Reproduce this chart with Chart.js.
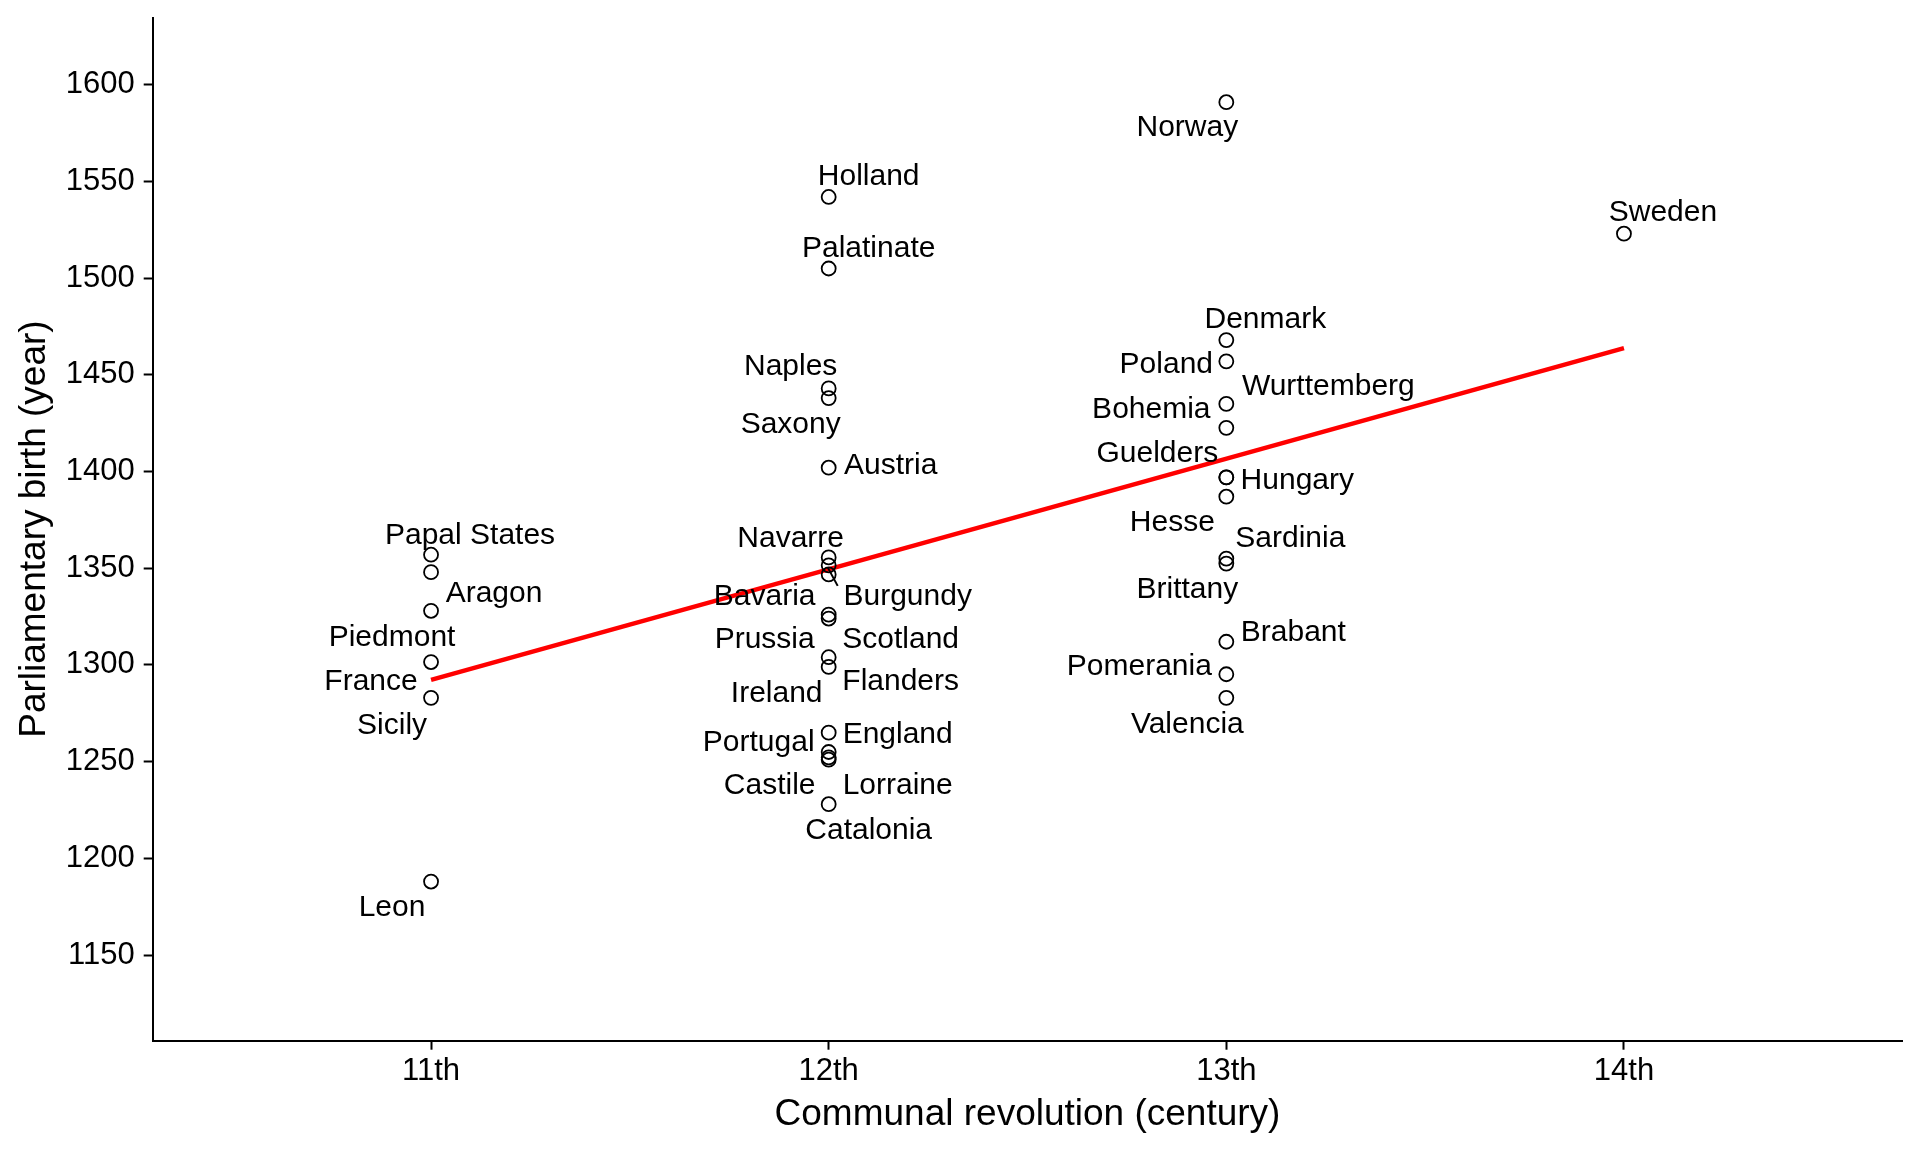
<!DOCTYPE html>
<html>
<head>
<meta charset="utf-8">
<script src="https://cdn.jsdelivr.net/npm/chart.js@4.4.1/dist/chart.umd.min.js"></script>
<style>
    body { margin: 0; background: #fff; }
    canvas { display: block; }
</style>
</head>
<body>
<canvas id="birthChart" width="1920" height="1152"></canvas>
<script>
// data
const countries = [
    'Papal States', 'Aragon', 'Piedmont', 'France', 'Sicily', 'Leon',
    'Holland', 'Palatinate', 'Naples', 'Saxony', 'Austria', 'Navarre', 'Burgundy', 'Bavaria',
    'Prussia', 'Scotland', 'Flanders', 'Ireland', 'England', 'Portugal', 'Lorraine', 'Castile', 'Catalonia',
    'Norway', 'Denmark', 'Poland', 'Bohemia', 'Wurttemberg', 'Guelders', 'Hungary', 'Hesse',
    'Sardinia', 'Brittany', 'Brabant', 'Pomerania', 'Valencia',
    'Sweden'
];
const century = [
    11, 11, 11, 11, 11, 11,
    12, 12, 12, 12, 12, 12, 12, 12,
    12, 12, 12, 12, 12, 12, 12, 12, 12,
    13, 13, 13, 13, 13, 13, 13, 13,
    13, 13, 13, 13, 13,
    14
];
const birthYear = [
    1357, 1348, 1328, 1301.5, 1283, 1188,
    1542, 1505, 1443, 1438, 1402, 1355.6, 1351.5, 1346.8,
    1326, 1324, 1304, 1299, 1265, 1255, 1252.2, 1251, 1228,
    1591, 1468, 1457, 1435, 1422.6, 1397, 1397, 1387,
    1355, 1352.4, 1312, 1295.2, 1283,
    1523
];
const trendCentury = [11, 14];
const trendYear = [1292.3, 1463.8];

const xTickValues = [11, 12, 13, 14];
const xTickLabels = ['11th', '12th', '13th', '14th'];
const yTickValues = [1150, 1200, 1250, 1300, 1350, 1400, 1450, 1500, 1550, 1600];

// label offsets from the point, in pixels (like ggrepel placed them)
const labelDx = [
    39, 63, -39, -60, -39, -39,
    40, 40, -38, -38, 62, -38, 79, -64,
    -64, 72, 72, -52, 69, -70, 69, -59, 40,
    -39, 39, -60, -75, 102, -69, 71, -54,
    64, -39, 67, -87, -39,
    39
];
const labelDy = [
    -21, 19, 24, 17, 25, 24,
    -23, -22, -24, 24, -4, -21, 29, 20,
    23, 19, 22, 24, 0, -12, 26, 24, 24,
    23, -23, 1, 3, -44, -26, 1, 24,
    -22, 24, -12, -10, 24,
    -23
];
// Burgundy gets a repel segment, its end given relative to the label centre
const segmentFor = 'Burgundy';
const segmentEnd = [-70, -11];

const FONT = '"Liberation Sans", Arial, sans-serif';

const labelPlugin = {
    id: 'pointLabels',
    afterDatasetsDraw(chart) {
        const ctx = chart.ctx;
        const pts = chart.getDatasetMeta(0).data;
        ctx.save();
        ctx.font = '30px ' + FONT;
        ctx.fillStyle = '#000';
        ctx.textAlign = 'center';
        ctx.textBaseline = 'middle';
        countries.forEach((name, i) => {
            const px = pts[i].x, py = pts[i].y;
            const lx = px + labelDx[i], ly = py + labelDy[i] + 2.5;
            if (name === segmentFor) {
                ctx.strokeStyle = '#000';
                ctx.lineWidth = 2;
                ctx.beginPath();
                ctx.moveTo(px - 1, py + 2);
                ctx.lineTo(lx + segmentEnd[0], ly + segmentEnd[1]);
                ctx.stroke();
            }
            ctx.fillText(name, lx, ly);
        });
        ctx.restore();
    }
};

const titlePlugin = {
    id: 'axisTitles',
    afterDraw(chart) {
        const ctx = chart.ctx;
        const area = chart.chartArea;
        ctx.save();
        ctx.font = '37px ' + FONT;
        ctx.fillStyle = '#000';
        ctx.textAlign = 'center';
        ctx.textBaseline = 'middle';
        ctx.fillText('Communal revolution (century)', (area.left + area.right) / 2, 1115);
        ctx.translate(35, (area.top + area.bottom) / 2);
        ctx.rotate(-Math.PI / 2);
        ctx.fillText('Parliamentary birth (year)', 0, 0);
        ctx.restore();
    }
};

function createChart() {
    const ctx = document.getElementById('birthChart').getContext('2d');
    const points = century.map((c, i) => ({ x: c, y: birthYear[i] }));
    const trend = trendCentury.map((c, i) => ({ x: c, y: trendYear[i] }));

    const axisGrid = {
        display: true,
        drawOnChartArea: false,
        drawTicks: true,
        tickLength: 9,
        tickWidth: 2,
        tickColor: '#000'
    };

    return new Chart(ctx, {
        type: 'scatter',
        data: {
            datasets: [{
                label: 'countries',
                data: points,
                pointStyle: 'circle',
                pointRadius: 7,
                pointBorderWidth: 1.8,
                pointBorderColor: '#000',
                pointBackgroundColor: 'rgba(0,0,0,0)',
                order: 1
            }, {
                type: 'line',
                label: 'fit',
                data: trend,
                borderColor: '#ff0000',
                borderWidth: 4.5,
                pointRadius: 0,
                fill: false,
                tension: 0,
                order: 2
            }]
        },
        options: {
            responsive: false,
            animation: false,
            devicePixelRatio: 1,
            layout: { padding: { top: 17.5, right: 17.7, left: 0, bottom: 0 } },
            plugins: {
                legend: { display: false },
                tooltip: { enabled: false }
            },
            scales: {
                x: {
                    type: 'linear',
                    min: 10.3,
                    max: 14.7,
                    afterBuildTicks: s => { s.ticks = xTickValues.map(v => ({ value: v })); },
                    afterFit: s => {
                        s.height = 111.3;
                        s.paddingLeft = 0;
                        s.paddingRight = 0;
                    },
                    ticks: {
                        callback: v => xTickLabels[xTickValues.indexOf(v)],
                        font: { family: FONT, size: 31 },
                        color: '#000',
                        padding: 3,
                        maxRotation: 0,
                        autoSkip: false
                    },
                    grid: axisGrid,
                    border: { display: true, color: '#000', width: 2 }
                },
                y: {
                    min: 1105.7,
                    max: 1634.8,
                    afterBuildTicks: s => { s.ticks = yTickValues.map(v => ({ value: v })); },
                    afterFit: s => {
                        s.width = 152.7;
                        s.paddingTop = 0;
                        s.paddingBottom = 0;
                    },
                    ticks: {
                        callback: v => String(v),
                        font: { family: FONT, size: 31 },
                        color: '#000',
                        padding: 9,
                        autoSkip: false
                    },
                    grid: axisGrid,
                    border: { display: true, color: '#000', width: 2 }
                }
            }
        },
        plugins: [labelPlugin, titlePlugin]
    });
}

createChart();
</script>
</body>
</html>
